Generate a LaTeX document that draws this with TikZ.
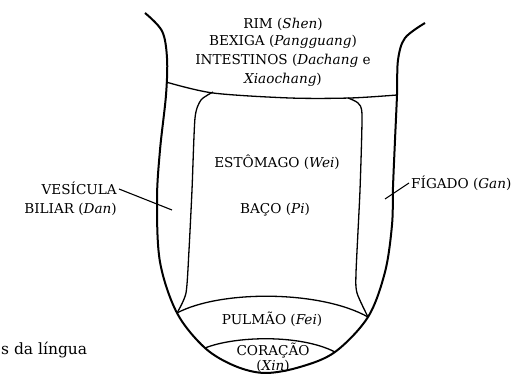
\documentclass[tikz,border=0pt]{standalone}
\usepackage{fontspec}
\setmainfont{DejaVu Serif}
\begin{document}
\begin{tikzpicture}[x=1pt,y=-1pt,
  outer/.style={line width=2pt,line join=round},
  inner/.style={line width=1.3pt,line join=round},
  lbl/.style={font=\fontsize{13.6}{16}\selectfont,inner sep=0pt},
  leader/.style={line width=1.1pt}]
\useasboundingbox (0,0) rectangle (514,374);
% outer tongue outline
\draw[outer] plot[smooth,tension=0.55] coordinates {(145,13) (162,31) (167,58) (166,95) (160,150) (157,200) (160,262) (177,313) (205,348) (235,366) (265,373) (300,367) (335,352) (368,317) (385,272) (392,225) (393,187) (395,140) (397,95) (398,60) (405,38) (425,23)};
% top transverse line
\draw[inner] plot[smooth,tension=0.5] coordinates {(166,82) (213,93) (290,98) (350,98) (397,95)};
% inner region (stomach/spleen)
\draw[inner] plot[smooth,tension=0.4] coordinates {(177,313) (186,293) (189,250) (192,190) (195,118) (201,100) (213,92)};
\draw[inner] plot[smooth,tension=0.4] coordinates {(348,98) (358,103) (362,115) (360,190) (356,273) (357,293) (368,317)};
% lung arc and heart arc
\draw[inner] (177,313) .. controls (220,290) and (320,290) .. (368,317);
\draw[inner] (205,348) .. controls (235,336) and (300,334) .. (335,352);
% labels
\node[lbl] (rim) at (283,24) {RIM (\textit{Shen})};
\node[lbl] (bex) at (283,42) {BEXIGA (\textit{Pangguang})};
\node[lbl] (int) at (283,61) {INTESTINOS (\textit{Dachang} e};
\node[lbl] (xia) at (283,80) {\textit{Xiaochang})};
\node[lbl] (est) at (277,162) {ESTÔMAGO (\textit{Wei})};
\node[lbl] (bac) at (275,210) {BAÇO (\textit{Pi})};
\node[lbl,anchor=east] (ves) at (117,188) {VESÍCULA};
\node[lbl,anchor=east] (bil) at (117,209) {BILIAR (\textit{Dan})};
\node[lbl,anchor=west] (fig) at (411,183) {FÍGADO (\textit{Gan})};
\node[lbl] (pul) at (272,319) {PULMÃO (\textit{Fei})};
\node[lbl] (cor) at (273,351) {CORAÇÃO};
\node[lbl] (xin) at (273,366) {(\textit{Xin})};
\node[font=\fontsize{15.5}{18}\selectfont,inner sep=0pt,anchor=west] (lin) at (1,350) {s da língua};
% leaders
\coordinate (vesend) at (172,210);
\coordinate (figend) at (385,199);
\draw[leader] (ves.east) ++(2,1) -- (vesend);
\draw[leader] (fig.west) ++(-2,0) -- (figend);
\end{tikzpicture}
\end{document}
